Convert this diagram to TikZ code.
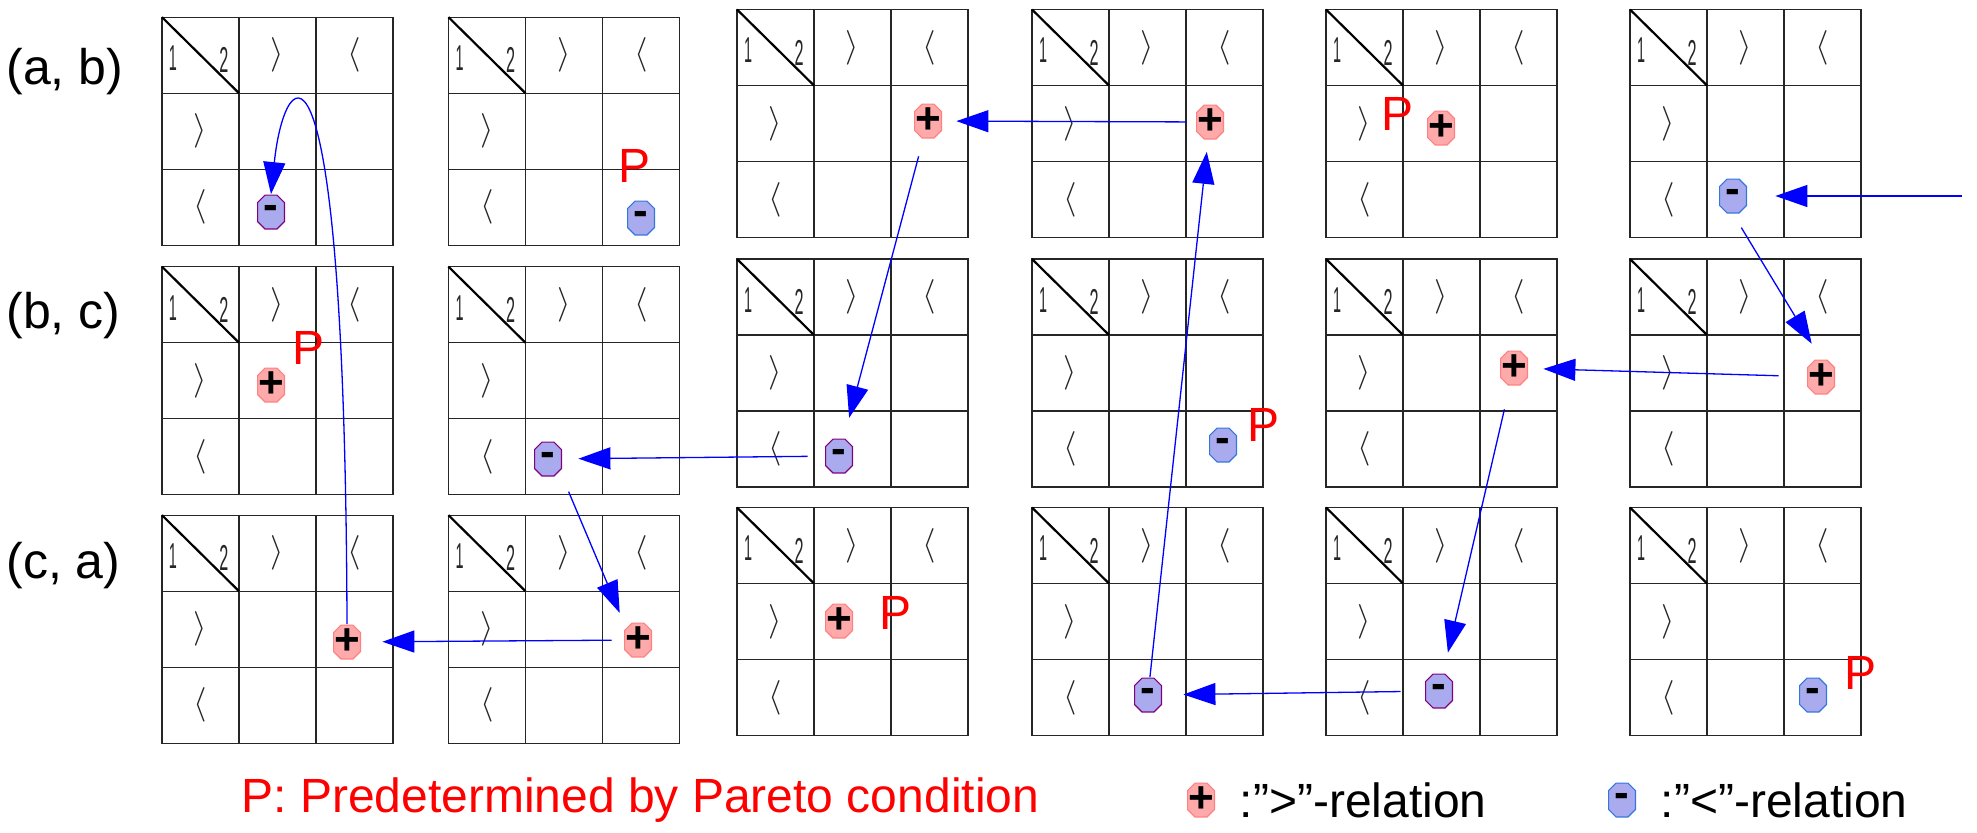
\documentclass[tikz,border=0pt]{standalone}
\usepackage{fontspec}
\setmainfont{Liberation Sans}
\usetikzlibrary{arrows.meta,positioning}

\definecolor{plusfill}{RGB}{255,170,170}
\definecolor{plusline}{RGB}{255,128,128}
\definecolor{minusfill}{RGB}{170,170,238}
\definecolor{minusline}{RGB}{128,0,128}
\definecolor{predline}{RGB}{51,119,221}

\tikzset{
  gridline/.style={line width=0.7pt,draw=black!85},
  diagline/.style={line width=1.1pt,draw=black},
  digit/.style={inner sep=0pt,text=black!85,font=\fontsize{18}{18}\selectfont},
  relsign/.style={inner sep=0pt,text=black!85,font=\fontsize{17}{17}\selectfont},
  relmark/.style 2 args={rectangle,minimum width=14pt,minimum height=17.5pt,inner sep=0pt,
    font=\fontsize{22}{22}\selectfont\bfseries,
    path picture={\draw[fill=#1,draw=#2,line width=0.6pt]
      ([xshift=4pt,yshift=-0.3pt]path picture bounding box.north west)
      -- ([xshift=-4pt,yshift=-0.3pt]path picture bounding box.north east)
      -- ([xshift=-0.3pt,yshift=-4pt]path picture bounding box.north east)
      -- ([xshift=-0.3pt,yshift=4pt]path picture bounding box.south east)
      -- ([xshift=-4pt,yshift=0.3pt]path picture bounding box.south east)
      -- ([xshift=4pt,yshift=0.3pt]path picture bounding box.south west)
      -- ([xshift=0.3pt,yshift=4pt]path picture bounding box.south west)
      -- ([xshift=0.3pt,yshift=-4pt]path picture bounding box.north west) -- cycle;}},
  gtmark/.style={relmark={plusfill}{plusline}},
  ltmark/.style={relmark={minusfill}{minusline}},
  ltpred/.style={relmark={minusfill}{predline}},
  pmark/.style={inner sep=0pt,text=red,font=\fontsize{24}{24}\selectfont},
  rowlab/.style={anchor=west,inner sep=0pt,font=\fontsize{25}{25}\selectfont},
  keytext/.style={inner sep=0pt,font=\fontsize{24}{24}\selectfont},
  flow/.style={draw=blue,line width=0.65pt,-{Triangle[length=16pt,width=11pt]}}
}

\begin{document}
\begin{tikzpicture}[x=0.5pt,y=-0.5pt]
  \useasboundingbox (0,0) rectangle (1977,832);

  \foreach \gx/\dy [count=\i] in {162/7.7,448.5/7.7,737/0,1032/0,1326/0,1630/0}
    \foreach \gt [count=\j] in {9.5,259,507.5} {
      \pgfmathsetmacro\gy{\gt+\dy}
      \draw[gridline] (\gx,\gy) rectangle ++(231,228);
      \draw[gridline] (\gx+77,\gy) -- ++(0,228) (\gx+154,\gy) -- ++(0,228)
        (\gx,\gy+76) -- ++(231,0) (\gx,\gy+152) -- ++(231,0);
      \draw[diagline] (\gx,\gy) -- ++(77,76);
      \node[digit] (one\i\j) at (\gx+11,\gy+41) {\scalebox{0.4}[1]{1}};
      \node[digit] (two\i\j) at (\gx+62,\gy+43) {\scalebox{0.45}[1]{2}};
      \node[relsign] (cgt\i\j) at (\gx+115.5,\gy+38) {$\rangle$};
      \node[relsign] (clt\i\j) at (\gx+192.5,\gy+38) {$\langle$};
      \node[relsign] (rgt\i\j) at (\gx+38.5,\gy+114) {$\rangle$};
      \node[relsign] (rlt\i\j) at (\gx+38.5,\gy+190) {$\langle$};
    }

  \node[rowlab] (rab) at (6,72) {(a, b)};
  \node[rowlab] (rbc) at (6,316) {(b, c)};
  \node[rowlab] (rca) at (6,566) {(c, a)};

  \node[ltmark] (ab1) at (271,212) {-};
  \node[ltpred] (ab2) at (641,218) {-};
  \node[gtmark] (ab3) at (928,121) {+};
  \node[gtmark] (ab4) at (1210,122) {+};
  \node[gtmark] (ab5) at (1441,128) {+};
  \node[ltpred] (ab6) at (1733,196) {-};
  \node[gtmark] (bc1) at (271,385) {+};
  \node[ltmark] (bc2) at (548,459) {-};
  \node[ltmark] (bc3) at (839,456) {-};
  \node[ltpred] (bc4) at (1223,445) {-};
  \node[gtmark] (bc5) at (1514,368) {+};
  \node[gtmark] (bc6) at (1821,377) {+};
  \node[gtmark] (ca1) at (347,642) {+};
  \node[gtmark] (ca2) at (638,640) {+};
  \node[gtmark] (ca3) at (839,621) {+};
  \node[ltmark] (ca4) at (1148,695) {-};
  \node[ltmark] (ca5) at (1439,691) {-};
  \node[ltpred] (ca6) at (1813,695) {-};

  \node[pmark] (pab2) at (635,166) {P};
  \node[pmark] (pab5) at (1397,114) {P};
  \node[pmark] (pbc1) at (309,348) {P};
  \node[pmark] (pbc4) at (1263,425) {P};
  \node[pmark] (pca3) at (895,613) {P};
  \node[pmark] (pca6) at (1860,673) {P};

  \coordinate (in) at (1962,196);
  \draw[flow,shorten >=14pt] (in) -- (ab6);
  \draw[flow,shorten <=8pt,shorten >=9pt] (ab6.south) -- (bc6.north);
  \draw[flow,shorten <=14pt,shorten >=7.5pt] (bc6) -- (bc5);
  \draw[flow,shorten <=12pt,shorten >=10.5pt] (bc5) -- (ca5);
  \draw[flow,shorten <=12pt,shorten >=10.5pt] (ca5) -- (ca4);
  \draw[flow,shorten >=6pt] (ca4) -- (ab4);
  \draw[flow,shorten <=4.5pt,shorten >=7pt] (ab4) -- (ab3);
  \draw[flow,shorten <=9pt,shorten >=10.5pt] (ab3) -- (bc3);
  \draw[flow,shorten <=8.5pt,shorten >=8pt] (bc3) -- (bc2);
  \draw[flow,shorten <=8pt,shorten >=5pt] (bc2.south east) -- (ca2.north west);
  \draw[flow,shorten <=6pt,shorten >=10.5pt] (ca2) -- (ca1);
  \draw[flow] (ca1.north) .. controls (345,0) and (285,60) .. (ab1.north);

  \node[pmark,anchor=base west] (pkey) at (241,812) {P: Predetermined by Pareto condition};
  \node[gtmark] (keygt) at (1201,800) {+};
  \node[keytext,right=12pt of keygt] (keygttext) {:”>”-relation};
  \node[ltpred] (keylt) at (1622,800) {-};
  \node[keytext,right=12pt of keylt] (keylttext) {:”<”-relation};
\end{tikzpicture}
\end{document}
